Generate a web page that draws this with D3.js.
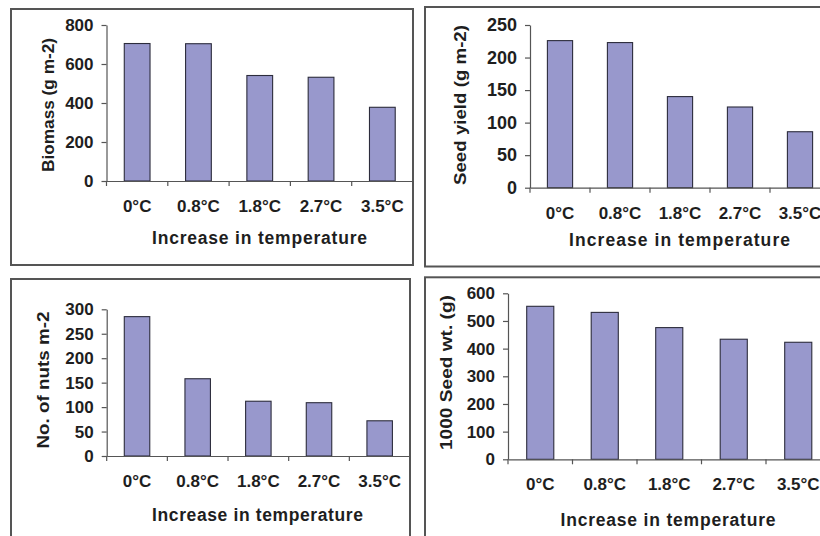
<!DOCTYPE html>
<html>
<head>
<meta charset="utf-8">
<script src="https://cdn.jsdelivr.net/npm/d3@7"></script>
<style>
  html, body { margin: 0; padding: 0; background: #fff; }
  svg { display: block; }
  text { font-family: "Liberation Sans", Arial, sans-serif; font-weight: bold; fill: #1e1e1e; }
</style>
</head>
<body>
<svg id="chart" width="820" height="536"></svg>
<script>
// ---- data ----
const categories = ["0°C", "0.8°C", "1.8°C", "2.7°C", "3.5°C"];
const biomass   = [705, 704, 541, 532, 378];
const seedYield = [226, 223, 140, 124, 86];
const nutsM2    = [285, 158, 112, 109, 72];
const seedWt    = [553, 531, 476, 434, 423];
const biomassTicks   = [0, 200, 400, 600, 800];
const seedYieldTicks = [0, 50, 100, 150, 200, 250];
const nutsTicks      = [0, 50, 100, 150, 200, 250, 300];
const seedWtTicks    = [0, 100, 200, 300, 400, 500, 600];
const xTitle = "Increase in temperature";
const yTitles = ["Biomass (g m-2)", "Seed yield (g m-2)", "No. of nuts m-2", "1000 Seed wt. (g)"];

const svg = d3.select("#chart");

const panels = [
  { values: biomass, ticks: biomassTicks, yTitle: yTitles[0],
    box: [11, 9, 402, 256], ax: 106.5, ax1: 413, y0: 181, y1: 25,
    xt: { cx: 259.5, y: 244, len: 215 }, yt: { cx: 48, cy: 105, len: 134, fs: 16.5 }, yfs: 17 },
  { values: seedYield, ticks: seedYieldTicks, yTitle: yTitles[1],
    box: [425, 7, 420, 259.5], ax: 530, ax1: 830, y0: 187.7, y1: 25,
    xt: { cx: 679.5, y: 246, len: 221 }, yt: { cx: 460.5, cy: 105, len: 160, fs: 17 }, yfs: 18 },
  { values: nutsM2, ticks: nutsTicks, yTitle: yTitles[2],
    box: [11, 279, 399, 280], ax: 106.7, ax1: 410, y0: 456, y1: 309.3,
    xt: { cx: 257.5, y: 520.5, len: 211 }, yt: { cx: 43.7, cy: 380, len: 137, fs: 16.5 }, yfs: 17 },
  { values: seedWt, ticks: seedWtTicks, yTitle: yTitles[3],
    box: [425, 277.3, 420, 280], ax: 508, ax1: 830.5, y0: 459.3, y1: 293.3,
    xt: { cx: 668, y: 526, len: 215 }, yt: { cx: 446, cy: 372.5, len: 155, fs: 16.5 }, yfs: 17 }
];

panels.forEach(p => {
  const g = svg.append("g");
  // frame
  g.append("rect")
    .attr("x", p.box[0]).attr("y", p.box[1])
    .attr("width", p.box[2]).attr("height", p.box[3])
    .attr("fill", "none").attr("stroke", "#555").attr("stroke-width", 2);

  const x = d3.scaleBand().domain(categories).range([p.ax, p.ax1])
    .paddingInner(0.58).paddingOuter(0.29);
  const maxT = p.ticks[p.ticks.length - 1];
  const y = d3.scaleLinear().domain([0, maxT]).range([p.y0, p.y1]);

  // bars
  g.selectAll("rect.bar").data(p.values).join("rect")
    .attr("class", "bar")
    .attr("x", (d, i) => x(categories[i]))
    .attr("width", x.bandwidth())
    .attr("y", d => y(d))
    .attr("height", d => y(0) - y(d))
    .attr("fill", "#9898cc")
    .attr("stroke", "#2c2c3c")
    .attr("stroke-width", 1.1);

  // y axis
  const ya = g.append("g").attr("transform", `translate(${p.ax},0)`)
    .call(d3.axisLeft(y).tickValues(p.ticks).tickSize(5).tickPadding(8).tickSizeOuter(0));
  ya.select(".domain").attr("stroke", "#555").attr("stroke-width", 1.2);
  ya.selectAll(".tick line").attr("stroke", "#555").attr("stroke-width", 1.2);
  ya.selectAll(".tick text").attr("font-size", p.yfs).attr("font-family", null).attr("fill", null);

  // x axis (labels)
  const xa = g.append("g").attr("transform", `translate(0,${p.y0})`)
    .call(d3.axisBottom(x).tickSize(0).tickSizeOuter(0));
  xa.select(".domain").attr("stroke", "#555").attr("stroke-width", 1.2);
  xa.selectAll(".tick text").attr("font-size", 17).attr("font-family", null).attr("fill", null)
    .attr("y", 31).attr("dy", 0);
  // x tick marks at band boundaries
  const bounds = categories.map(c => x(c) - x.step() * x.paddingInner() / 2).concat([p.ax1]);
  g.selectAll("line.xt").data(bounds).join("line")
    .attr("class", "xt")
    .attr("x1", d => d).attr("x2", d => d)
    .attr("y1", p.y0).attr("y2", p.y0 + 5)
    .attr("stroke", "#555").attr("stroke-width", 1.2);

  // titles
  g.append("text")
    .attr("x", p.xt.cx).attr("y", p.xt.y)
    .attr("text-anchor", "middle")
    .attr("font-size", 17.5)
    .attr("textLength", p.xt.len).attr("lengthAdjust", "spacing")
    .text(xTitle);
  g.append("text")
    .attr("transform", `translate(${p.yt.cx},${p.yt.cy}) rotate(-90)`)
    .attr("text-anchor", "middle")
    .attr("dy", "0.35em")
    .attr("font-size", p.yt.fs)
    .attr("textLength", p.yt.len).attr("lengthAdjust", "spacingAndGlyphs")
    .text(p.yTitle);
});
</script>
</body>
</html>
